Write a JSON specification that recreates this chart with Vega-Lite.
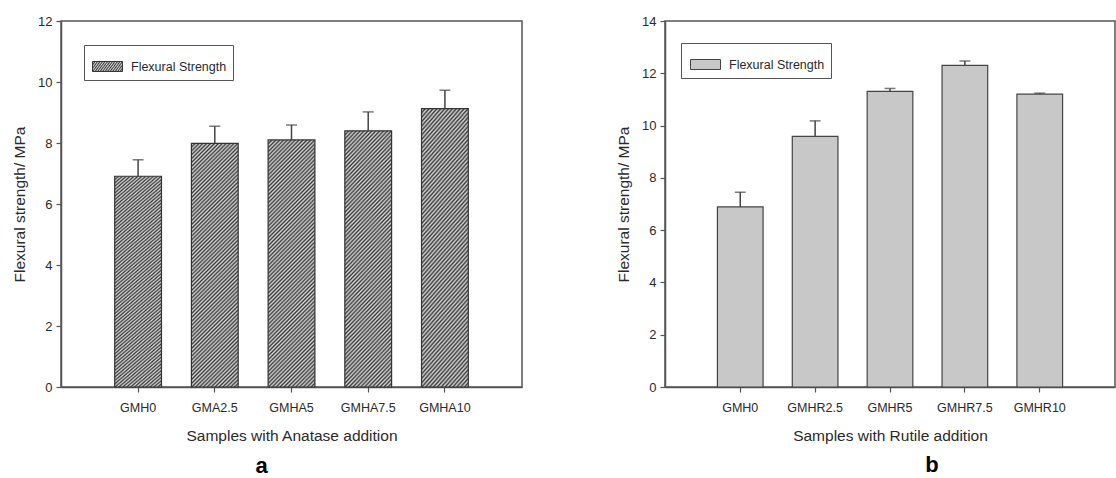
{
  "$schema": "https://vega.github.io/schema/vega-lite/v6.json",
  "background": "white",
  "padding": {"left": 11, "top": 14, "right": 0, "bottom": 0},
  "spacing": 92,
  "resolve": {"scale": {"fill": "independent", "stroke": "independent"}, "legend": {"fill": "independent", "stroke": "independent"}},
  "config": {
    "font": "Liberation Sans",
    "view": {"stroke": "#555", "strokeWidth": 1.5},
    "axis": {"domainColor": "#555", "domainWidth": 1.5, "tickColor": "#555", "tickWidth": 1.2, "tickSize": 5, "labelColor": "#2a2a2a", "titleColor": "#2a2a2a", "titleFontWeight": "normal", "grid": false, "labelPadding": 4}
  },
  "hconcat": [
    {
      "width": 461,
      "height": 366,
      "title": {"text": "a", "orient": "bottom", "anchor": "middle", "dx": -30, "offset": 12, "fontSize": 22, "fontWeight": "bold", "color": "#000"},
      "data": {"values": [
        {"sample": "GMH0", "value": 6.91, "upper": 7.45},
        {"sample": "GMA2.5", "value": 7.99, "upper": 8.55},
        {"sample": "GMHA5", "value": 8.1, "upper": 8.59},
        {"sample": "GMHA7.5", "value": 8.4, "upper": 9.02},
        {"sample": "GMHA10", "value": 9.13, "upper": 9.73}
      ]},
      "encoding": {
        "x": {"field": "sample", "type": "nominal", "sort": null, "scale": {"paddingInner": 0.39, "paddingOuter": 0.7},
              "axis": {"title": "Samples with Anatase addition", "labelAngle": 0, "labelFontSize": 12.5, "labelPadding": 9, "titleFontSize": 15.5, "titlePadding": 15}}
      },
      "layer": [
        {
          "mark": {"type": "bar", "stroke": "#333", "strokeWidth": 1.2,
            "fill": {"gradient": "linear", "x1": 0, "y1": 0, "x2": 0.22, "y2": 1.15, "stops": [
              {"offset": 0, "color": "#3a3a3a"}, {"offset": 0.0067, "color": "#d6d6d6"}, {"offset": 0.0133, "color": "#3a3a3a"},
              {"offset": 0.02, "color": "#d6d6d6"}, {"offset": 0.0267, "color": "#3a3a3a"}, {"offset": 0.0333, "color": "#d6d6d6"},
              {"offset": 0.04, "color": "#3a3a3a"}, {"offset": 0.0467, "color": "#d6d6d6"}, {"offset": 0.0533, "color": "#3a3a3a"},
              {"offset": 0.06, "color": "#d6d6d6"}, {"offset": 0.0667, "color": "#3a3a3a"}, {"offset": 0.0733, "color": "#d6d6d6"},
              {"offset": 0.08, "color": "#3a3a3a"}, {"offset": 0.0867, "color": "#d6d6d6"}, {"offset": 0.0933, "color": "#3a3a3a"},
              {"offset": 0.10, "color": "#d6d6d6"}, {"offset": 0.1067, "color": "#3a3a3a"}, {"offset": 0.1133, "color": "#d6d6d6"},
              {"offset": 0.12, "color": "#3a3a3a"}, {"offset": 0.1267, "color": "#d6d6d6"}, {"offset": 0.1333, "color": "#3a3a3a"},
              {"offset": 0.14, "color": "#d6d6d6"}, {"offset": 0.1467, "color": "#3a3a3a"}, {"offset": 0.1533, "color": "#d6d6d6"},
              {"offset": 0.16, "color": "#3a3a3a"}, {"offset": 0.1667, "color": "#d6d6d6"}, {"offset": 0.1733, "color": "#3a3a3a"},
              {"offset": 0.18, "color": "#d6d6d6"}, {"offset": 0.1867, "color": "#3a3a3a"}, {"offset": 0.1933, "color": "#d6d6d6"},
              {"offset": 0.20, "color": "#3a3a3a"}, {"offset": 0.2067, "color": "#d6d6d6"}, {"offset": 0.2133, "color": "#3a3a3a"},
              {"offset": 0.22, "color": "#d6d6d6"}, {"offset": 0.2267, "color": "#3a3a3a"}, {"offset": 0.2333, "color": "#d6d6d6"},
              {"offset": 0.24, "color": "#3a3a3a"}, {"offset": 0.2467, "color": "#d6d6d6"}, {"offset": 0.2533, "color": "#3a3a3a"},
              {"offset": 0.26, "color": "#d6d6d6"}, {"offset": 0.2667, "color": "#3a3a3a"}, {"offset": 0.2733, "color": "#d6d6d6"},
              {"offset": 0.28, "color": "#3a3a3a"}, {"offset": 0.2867, "color": "#d6d6d6"}, {"offset": 0.2933, "color": "#3a3a3a"},
              {"offset": 0.30, "color": "#d6d6d6"}, {"offset": 0.3067, "color": "#3a3a3a"}, {"offset": 0.3133, "color": "#d6d6d6"},
              {"offset": 0.32, "color": "#3a3a3a"}, {"offset": 0.3267, "color": "#d6d6d6"}, {"offset": 0.3333, "color": "#3a3a3a"},
              {"offset": 0.34, "color": "#d6d6d6"}, {"offset": 0.3467, "color": "#3a3a3a"}, {"offset": 0.3533, "color": "#d6d6d6"},
              {"offset": 0.36, "color": "#3a3a3a"}, {"offset": 0.3667, "color": "#d6d6d6"}, {"offset": 0.3733, "color": "#3a3a3a"},
              {"offset": 0.38, "color": "#d6d6d6"}, {"offset": 0.3867, "color": "#3a3a3a"}, {"offset": 0.3933, "color": "#d6d6d6"},
              {"offset": 0.40, "color": "#3a3a3a"}, {"offset": 0.4067, "color": "#d6d6d6"}, {"offset": 0.4133, "color": "#3a3a3a"},
              {"offset": 0.42, "color": "#d6d6d6"}, {"offset": 0.4267, "color": "#3a3a3a"}, {"offset": 0.4333, "color": "#d6d6d6"},
              {"offset": 0.44, "color": "#3a3a3a"}, {"offset": 0.4467, "color": "#d6d6d6"}, {"offset": 0.4533, "color": "#3a3a3a"},
              {"offset": 0.46, "color": "#d6d6d6"}, {"offset": 0.4667, "color": "#3a3a3a"}, {"offset": 0.4733, "color": "#d6d6d6"},
              {"offset": 0.48, "color": "#3a3a3a"}, {"offset": 0.4867, "color": "#d6d6d6"}, {"offset": 0.4933, "color": "#3a3a3a"},
              {"offset": 0.50, "color": "#d6d6d6"}, {"offset": 0.5067, "color": "#3a3a3a"}, {"offset": 0.5133, "color": "#d6d6d6"},
              {"offset": 0.52, "color": "#3a3a3a"}, {"offset": 0.5267, "color": "#d6d6d6"}, {"offset": 0.5333, "color": "#3a3a3a"},
              {"offset": 0.54, "color": "#d6d6d6"}, {"offset": 0.5467, "color": "#3a3a3a"}, {"offset": 0.5533, "color": "#d6d6d6"},
              {"offset": 0.56, "color": "#3a3a3a"}, {"offset": 0.5667, "color": "#d6d6d6"}, {"offset": 0.5733, "color": "#3a3a3a"},
              {"offset": 0.58, "color": "#d6d6d6"}, {"offset": 0.5867, "color": "#3a3a3a"}, {"offset": 0.5933, "color": "#d6d6d6"},
              {"offset": 0.60, "color": "#3a3a3a"}, {"offset": 0.6067, "color": "#d6d6d6"}, {"offset": 0.6133, "color": "#3a3a3a"},
              {"offset": 0.62, "color": "#d6d6d6"}, {"offset": 0.6267, "color": "#3a3a3a"}, {"offset": 0.6333, "color": "#d6d6d6"},
              {"offset": 0.64, "color": "#3a3a3a"}, {"offset": 0.6467, "color": "#d6d6d6"}, {"offset": 0.6533, "color": "#3a3a3a"},
              {"offset": 0.66, "color": "#d6d6d6"}, {"offset": 0.6667, "color": "#3a3a3a"}, {"offset": 0.6733, "color": "#d6d6d6"},
              {"offset": 0.68, "color": "#3a3a3a"}, {"offset": 0.6867, "color": "#d6d6d6"}, {"offset": 0.6933, "color": "#3a3a3a"},
              {"offset": 0.70, "color": "#d6d6d6"}, {"offset": 0.7067, "color": "#3a3a3a"}, {"offset": 0.7133, "color": "#d6d6d6"},
              {"offset": 0.72, "color": "#3a3a3a"}, {"offset": 0.7267, "color": "#d6d6d6"}, {"offset": 0.7333, "color": "#3a3a3a"},
              {"offset": 0.74, "color": "#d6d6d6"}, {"offset": 0.7467, "color": "#3a3a3a"}, {"offset": 0.7533, "color": "#d6d6d6"},
              {"offset": 0.76, "color": "#3a3a3a"}, {"offset": 0.7667, "color": "#d6d6d6"}, {"offset": 0.7733, "color": "#3a3a3a"},
              {"offset": 0.78, "color": "#d6d6d6"}, {"offset": 0.7867, "color": "#3a3a3a"}, {"offset": 0.7933, "color": "#d6d6d6"},
              {"offset": 0.80, "color": "#3a3a3a"}, {"offset": 0.8067, "color": "#d6d6d6"}, {"offset": 0.8133, "color": "#3a3a3a"},
              {"offset": 0.82, "color": "#d6d6d6"}, {"offset": 0.8267, "color": "#3a3a3a"}, {"offset": 0.8333, "color": "#d6d6d6"},
              {"offset": 0.84, "color": "#3a3a3a"}, {"offset": 0.8467, "color": "#d6d6d6"}, {"offset": 0.8533, "color": "#3a3a3a"},
              {"offset": 0.86, "color": "#d6d6d6"}, {"offset": 0.8667, "color": "#3a3a3a"}, {"offset": 0.8733, "color": "#d6d6d6"},
              {"offset": 0.88, "color": "#3a3a3a"}, {"offset": 0.8867, "color": "#d6d6d6"}, {"offset": 0.8933, "color": "#3a3a3a"},
              {"offset": 0.90, "color": "#d6d6d6"}, {"offset": 0.9067, "color": "#3a3a3a"}, {"offset": 0.9133, "color": "#d6d6d6"},
              {"offset": 0.92, "color": "#3a3a3a"}, {"offset": 0.9267, "color": "#d6d6d6"}, {"offset": 0.9333, "color": "#3a3a3a"},
              {"offset": 0.94, "color": "#d6d6d6"}, {"offset": 0.9467, "color": "#3a3a3a"}, {"offset": 0.9533, "color": "#d6d6d6"},
              {"offset": 0.96, "color": "#3a3a3a"}, {"offset": 0.9667, "color": "#d6d6d6"}, {"offset": 0.9733, "color": "#3a3a3a"},
              {"offset": 0.98, "color": "#d6d6d6"}, {"offset": 0.9867, "color": "#3a3a3a"}, {"offset": 0.9933, "color": "#d6d6d6"},
              {"offset": 1, "color": "#3a3a3a"}
            ]}
          },
          "encoding": {
            "y": {"field": "value", "type": "quantitative", "scale": {"domain": [0, 12]},
                  "axis": {"title": "Flexural strength/ MPa", "values": [0, 2, 4, 6, 8, 10, 12], "labelFontSize": 13, "titleFontSize": 15.5, "titlePadding": 10}},
            "stroke": {"datum": "Flexural Strength", "type": "nominal", "scale": {"range": ["#333"]},
              "legend": {"title": null, "orient": "none", "legendX": 23, "legendY": 24, "strokeColor": "#555", "padding": 6,
                "symbolType": "M-1,-0.333H1V0.333H-1Z", "symbolSize": 900, "symbolStrokeWidth": 1, "symbolOffset": 2,
                "labelFontSize": 12.5, "labelColor": "#2a2a2a", "labelOffset": 8,
                "encode": {"symbols": {"update": {"fill": {"value": {"gradient": "linear", "x1": 0, "y1": 0, "x2": 1.2, "y2": 0.4, "stops": [
                  {"offset": 0, "color": "#3a3a3a"}, {"offset": 0.05, "color": "#d6d6d6"}, {"offset": 0.1, "color": "#3a3a3a"}, {"offset": 0.15, "color": "#d6d6d6"},
                  {"offset": 0.2, "color": "#3a3a3a"}, {"offset": 0.25, "color": "#d6d6d6"}, {"offset": 0.3, "color": "#3a3a3a"}, {"offset": 0.35, "color": "#d6d6d6"},
                  {"offset": 0.4, "color": "#3a3a3a"}, {"offset": 0.45, "color": "#d6d6d6"}, {"offset": 0.5, "color": "#3a3a3a"}, {"offset": 0.55, "color": "#d6d6d6"},
                  {"offset": 0.6, "color": "#3a3a3a"}, {"offset": 0.65, "color": "#d6d6d6"}, {"offset": 0.7, "color": "#3a3a3a"}, {"offset": 0.75, "color": "#d6d6d6"},
                  {"offset": 0.8, "color": "#3a3a3a"}, {"offset": 0.85, "color": "#d6d6d6"}, {"offset": 0.9, "color": "#3a3a3a"}, {"offset": 0.95, "color": "#d6d6d6"},
                  {"offset": 1, "color": "#3a3a3a"}
                ]}}}}}
              }
            }
          }
        },
        {
          "mark": {"type": "rule", "color": "#444", "strokeWidth": 1.5},
          "encoding": {"y": {"field": "value", "type": "quantitative"}, "y2": {"field": "upper"}}
        },
        {
          "mark": {"type": "tick", "color": "#444", "thickness": 1.5, "size": 11},
          "encoding": {"y": {"field": "upper", "type": "quantitative"}}
        }
      ]
    },
    {
      "width": 450,
      "height": 366,
      "title": {"text": "b", "orient": "bottom", "anchor": "middle", "dx": 42, "offset": 11, "fontSize": 22, "fontWeight": "bold", "color": "#000"},
      "data": {"values": [
        {"sample": "GMH0", "value": 6.89, "upper": 7.45},
        {"sample": "GMHR2.5", "value": 9.59, "upper": 10.18},
        {"sample": "GMHR5", "value": 11.31, "upper": 11.42},
        {"sample": "GMHR7.5", "value": 12.3, "upper": 12.47},
        {"sample": "GMHR10", "value": 11.2, "upper": 11.24}
      ]},
      "encoding": {
        "x": {"field": "sample", "type": "nominal", "sort": null, "scale": {"paddingInner": 0.39, "paddingOuter": 0.7},
              "axis": {"title": "Samples with Rutile addition", "labelAngle": 0, "labelFontSize": 12.5, "labelPadding": 9, "titleFontSize": 15.5, "titlePadding": 15}}
      },
      "layer": [
        {
          "mark": {"type": "bar", "stroke": "#444", "strokeWidth": 1.2},
          "encoding": {
            "y": {"field": "value", "type": "quantitative", "scale": {"domain": [0, 14]},
                  "axis": {"title": "Flexural strength/ MPa", "values": [0, 2, 4, 6, 8, 10, 12, 14], "labelFontSize": 13, "titleFontSize": 15.5, "titlePadding": 10}},
            "fill": {"datum": "Flexural Strength", "type": "nominal", "scale": {"range": ["#c8c8c8"]},
              "legend": {"title": null, "orient": "none", "legendX": 16, "legendY": 22, "strokeColor": "#555", "padding": 6,
                "symbolType": "M-1,-0.333H1V0.333H-1Z", "symbolSize": 900, "symbolStrokeWidth": 1, "symbolStrokeColor": "#444", "symbolOffset": 3,
                "labelFontSize": 12.5, "labelColor": "#2a2a2a", "labelOffset": 8}
            }
          }
        },
        {
          "mark": {"type": "rule", "color": "#444", "strokeWidth": 1.5},
          "encoding": {"y": {"field": "value", "type": "quantitative"}, "y2": {"field": "upper"}}
        },
        {
          "mark": {"type": "tick", "color": "#444", "thickness": 1.5, "size": 11},
          "encoding": {"y": {"field": "upper", "type": "quantitative"}}
        }
      ]
    }
  ]
}
